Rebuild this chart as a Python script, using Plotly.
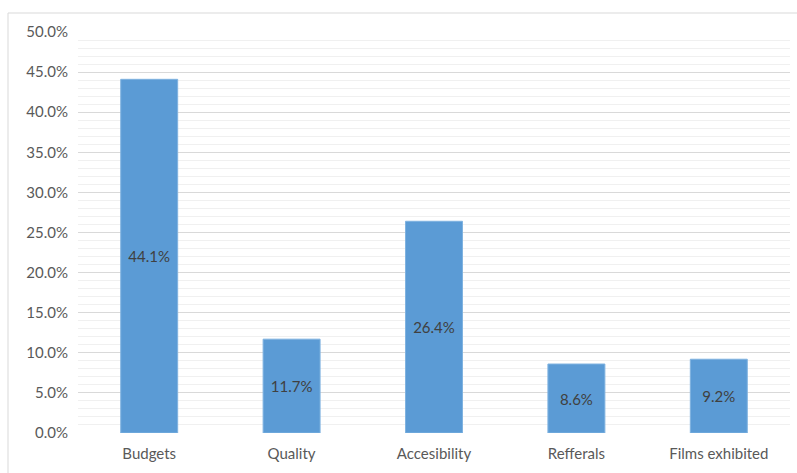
import plotly.graph_objects as go

# Share of responses per factor
categories = ["Budgets", "Quality", "Accesibility", "Refferals", "Films exhibited"]
shares = [0.441, 0.117, 0.264, 0.086, 0.092]
y_ticks = [0.0, 0.05, 0.10, 0.15, 0.20, 0.25, 0.30, 0.35, 0.40, 0.45, 0.50]

W, H = 797, 473
L, R, T, B = 78, 7, 32, 40
plot_w = W - L - R
plot_h = H - T - B

font_family = "Lato, 'Open Sans', sans-serif"
text_size = 15

fig = go.Figure(
    go.Bar(
        x=categories,
        y=shares,
        width=0.4,
        marker=dict(color="#5B9BD5", line=dict(color="#7FB2E0", width=1)),
        text=[f"{v * 100:.1f}%" for v in shares],
        textposition="inside",
        insidetextanchor="middle",
        textangle=0,
        textfont=dict(color="#404040", size=text_size, family=font_family),
        hoverinfo="skip",
    )
)

fig.update_layout(
    width=W,
    height=H,
    margin=dict(l=L, r=R, t=T, b=B),
    paper_bgcolor="white",
    plot_bgcolor="white",
    showlegend=False,
    bargap=0.6,
    uniformtext=dict(minsize=text_size, mode="show"),
    font=dict(family=font_family, color="#595959", size=text_size),
    xaxis=dict(
        showgrid=False,
        showline=False,
        zeroline=False,
        ticks="",
        ticklabelstandoff=10,
        tickfont=dict(size=text_size, color="#595959"),
        fixedrange=True,
    ),
    yaxis=dict(
        range=[0, 0.5],
        tickvals=y_ticks,
        tickformat=".1%",
        showgrid=True,
        gridcolor="#D9D9D9",
        gridwidth=1,
        zeroline=False,
        showline=False,
        ticks="",
        ticklabelstandoff=9,
        tickfont=dict(size=text_size, color="#595959"),
        minor=dict(dtick=0.01, showgrid=True, gridcolor="#F0F0F0", gridwidth=1),
        fixedrange=True,
    ),
    shapes=[
        dict(
            type="rect",
            xref="paper",
            yref="paper",
            x0=(8 - L) / plot_w,
            x1=(W + 5 - L) / plot_w,
            y0=-(H + 5 - (T + plot_h)) / plot_h,
            y1=(T + plot_h - 13) / plot_h,
            line=dict(color="#D9D9D9", width=1),
            fillcolor="rgba(0,0,0,0)",
            layer="below",
        )
    ],
)

fig.write_html("out.html")
